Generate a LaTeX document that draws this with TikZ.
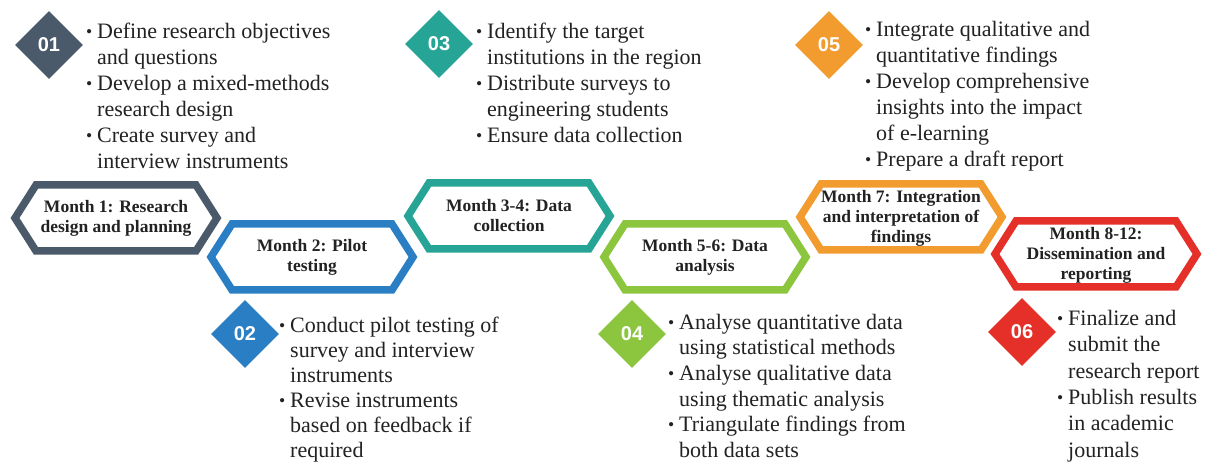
\documentclass[tikz,border=0pt]{standalone}
\usepackage{fontspec}
\setmainfont{Liberation Serif}
\newfontfamily\numfont{Liberation Sans}
\usetikzlibrary{shapes.geometric}
\definecolor{cslate}{HTML}{4A5A6B}
\definecolor{cblue}{HTML}{2A7EC3}
\definecolor{cteal}{HTML}{26A596}
\definecolor{cgreen}{HTML}{8CC63F}
\definecolor{corange}{HTML}{F29C30}
\definecolor{cred}{HTML}{E5302A}
\definecolor{ctxt}{HTML}{222222}
\newcommand\bul{\makebox[11pt][l]{\raisebox{1pt}{\scalebox{0.8}{\textbullet}}}}
\newcommand\cont{\hspace*{11pt}}
\newcommand\drawhex[3]{%
  \draw[line width=7.5pt,#3,line join=miter]
    (#1-101,-#2) -- (#1-80,-#2+33) -- (#1+80,-#2+33) -- (#1+101,-#2)
    -- (#1+80,-#2-33) -- (#1-80,-#2-33) -- cycle;}
\begin{document}
\begin{tikzpicture}[x=1pt,y=1pt,
  hextext/.style={align=center,font=\bfseries\fontsize{17.5}{20}\selectfont,text=ctxt,inner sep=0pt},
  num/.style={diamond,minimum width=68pt,minimum height=68pt,inner sep=0pt,text=white,font=\numfont\bfseries\fontsize{20}{22}\selectfont},
  bl/.style={anchor=north west,inner sep=0pt,text=ctxt,font=\fontsize{22}{26}\selectfont},
  blb/.style={bl,font=\fontsize{22}{25}\selectfont},
  blc/.style={bl,font=\fontsize{22}{25.7}\selectfont},
  bld/.style={bl,font=\fontsize{22}{26.3}\selectfont}]
\useasboundingbox (0,0) rectangle (1216,-462);
\fill[white] (0,0) rectangle (1216,-462);
% hexagons
\drawhex{116}{218}{cslate}
\drawhex{312}{257}{cblue}
\drawhex{509}{216}{cteal}
\drawhex{705}{257}{cgreen}
\drawhex{901}{217}{corange}
\drawhex{1096}{254}{cred}
\node[hextext] (h1) at (116,-218) {Month 1: Research\\design and planning};
\node[hextext] (h2) at (312,-257) {Month 2: Pilot\\testing};
\node[hextext] (h3) at (509,-216) {Month 3-4: Data\\collection};
\node[hextext] (h4) at (705,-257) {Month 5-6: Data\\analysis};
\node[hextext] (h5) at (901,-218) {Month 7: Integration\\and interpretation of\\findings};
\node[hextext] (h6) at (1096,-255) {Month 8-12:\\Dissemination and\\reporting};
% diamonds
\node[num,fill=cslate] (d1) at (49,-45) {01};
\node[num,fill=cblue] (d2) at (245,-334) {02};
\node[num,fill=cteal] (d3) at (439,-44) {03};
\node[num,fill=cgreen] (d4) at (632,-334) {04};
\node[num,fill=corange] (d5) at (829,-45) {05};
\node[num,fill=cred] (d6) at (1022,-332) {06};
% texts
\node[bl] (t1) at (86,-20) {\begin{tabular}{@{}l@{}}
\bul Define research objectives\\
\cont and questions\\
\bul Develop a mixed-methods\\
\cont research design\\
\bul Create survey and\\
\cont interview instruments\end{tabular}};
\node[blb] (t2) at (279,-315) {\begin{tabular}{@{}l@{}}
\bul Conduct pilot testing of\\
\cont survey and interview\\
\cont instruments\\
\bul Revise instruments\\
\cont based on feedback if\\
\cont required\end{tabular}};
\node[bl] (t3) at (476,-20) {\begin{tabular}{@{}l@{}}
\bul Identify the target\\
\cont institutions in the region\\
\bul Distribute surveys to\\
\cont engineering students\\
\bul Ensure data collection\end{tabular}};
\node[blc] (t4) at (668,-311) {\begin{tabular}{@{}l@{}}
\bul Analyse quantitative data\\
\cont using statistical methods\\
\bul Analyse qualitative data\\
\cont using thematic analysis\\
\bul Triangulate findings from\\
\cont both data sets\end{tabular}};
\node[bl] (t5) at (865,-18) {\begin{tabular}{@{}l@{}}
\bul Integrate qualitative and\\
\cont quantitative findings\\
\bul Develop comprehensive\\
\cont insights into the impact\\
\cont of e-learning\\
\bul Prepare a draft report\end{tabular}};
\node[bld] (t6) at (1057,-307) {\begin{tabular}{@{}l@{}}
\bul Finalize and\\
\cont submit the\\
\cont research report\\
\bul Publish results\\
\cont in academic\\
\cont journals\end{tabular}};
\end{tikzpicture}
\end{document}
